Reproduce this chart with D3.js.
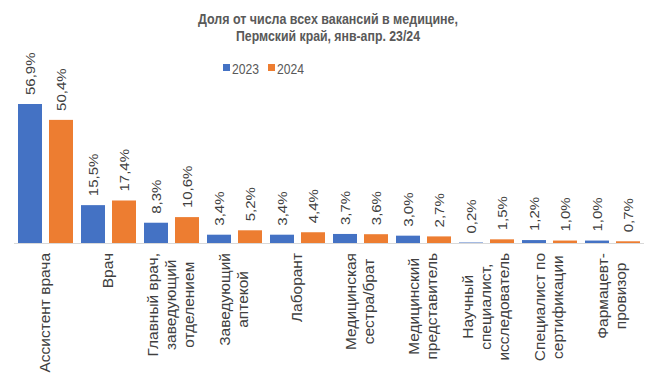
<!DOCTYPE html>
<html><head><meta charset="utf-8">
<script src="https://cdn.jsdelivr.net/npm/d3@7"></script>
<style>body{margin:0;background:#fff}svg{display:block}text{font-family:"Liberation Sans",Arial,sans-serif}</style>
</head><body>
<svg id="c" width="656" height="382"></svg>
<script>
const categories = [
  ["Ассистент врача"],
  ["Врач"],
  ["Главный врач,", "заведующий", "отделением"],
  ["Заведующий", "аптекой"],
  ["Лаборант"],
  ["Медицинская", "сестра/брат"],
  ["Медицинский", "представитель"],
  ["Научный", "специалист,", "исследователь"],
  ["Специалист по", "сертификации"],
  ["Фармацевт-", "провизор"]
];
const seriesNames = ["2023", "2024"];
const values2023 = [56.9, 15.5, 8.3, 3.4, 3.4, 3.7, 3.0, 0.2, 1.2, 1.0];
const values2024 = [50.4, 17.4, 10.6, 5.2, 4.4, 3.6, 2.7, 1.5, 1.0, 0.7];
const colors = ["#4472C4", "#ED7D31"];
const titleLines = ["Доля от числа всех вакансий в медицине,", "Пермский край, янв-апр. 23/24"];

const svg = d3.select("#c");
const series = [values2023, values2024];
const idx = d3.range(categories.length);

const x0 = d3.scaleBand().domain(idx).range([14, 644]).paddingInner(0).paddingOuter(0);
const x1 = d3.scaleBand().domain(seriesNames).range([0, x0.bandwidth()]).paddingInner(0.226).paddingOuter(0.129);
const y = d3.scaleLinear().domain([0, 56.9]).range([243, 104]);

// title
svg.append("g").selectAll("text").data(titleLines).join("text")
  .attr("x", 328).attr("y", (d, i) => 24 + i * 17)
  .attr("text-anchor", "middle").attr("font-size", 15).attr("font-weight", "bold")
  .attr("fill", "#595959")
  .attr("textLength", (d, i) => i === 0 ? 260 : 184).attr("lengthAdjust", "spacingAndGlyphs")
  .text(d => d);

// legend
const lg = svg.append("g");
const legX = [223, 268];
seriesNames.forEach((s, i) => {
  lg.append("rect").attr("x", legX[i]).attr("y", 64).attr("width", 7).attr("height", 7).attr("fill", colors[i]);
  lg.append("text").attr("x", legX[i] + 9).attr("y", 73.5).attr("font-size", 15.5).attr("fill", "#595959")
    .attr("textLength", 27).attr("lengthAdjust", "spacingAndGlyphs").text(s);
});

// bars
const groups = svg.append("g").selectAll("g").data(idx).join("g")
  .attr("transform", d => `translate(${x0(d)},0)`);
groups.selectAll("rect").data(d => seriesNames.map((s, j) => ({s, j, v: series[j][d]}))).join("rect")
  .attr("x", d => x1(d.s)).attr("width", x1.bandwidth())
  .attr("y", d => y(d.v)).attr("height", d => y(0) - y(d.v))
  .attr("fill", d => colors[d.j]);

// value labels
groups.selectAll("text").data(d => seriesNames.map((s, j) => ({s, j, v: series[j][d]}))).join("text")
  .attr("transform", d => `translate(${x1(d.s) + x1.bandwidth() / 2 + 0.5},${y(d.v) - 9}) rotate(-90) scale(1,0.9)`)
  .attr("dy", "0.35em").attr("font-size", 15).attr("fill", "#404040")
  .text(d => d.v.toFixed(1).replace(".", ",") + "%");

// axis line
svg.append("line").attr("x1", 14).attr("x2", 644).attr("y1", y(0) + 0.5).attr("y2", y(0) + 0.5)
  .attr("stroke", "#D9D9D9").attr("stroke-width", 1);

// category labels
const labelTop = 253;
const cg = svg.append("g");
idx.forEach(i => {
  const lines = categories[i];
  const cx = x0(i) + x0.bandwidth() / 2;
  const g = cg.append("g").attr("transform", `translate(${cx},0) rotate(-90) scale(1,0.9)`);
  const ts = lines.map((l, k) => g.append("text").attr("font-size", 15.5).attr("fill", "#404040")
    .attr("text-anchor", "middle").attr("dy", "0.35em")
    .attr("y", (k - (lines.length - 1) / 2) * 18 / 0.9).text(l));
  const maxW = d3.max(ts, t => t.node().getComputedTextLength());
  ts.forEach(t => t.attr("x", -(labelTop + maxW / 2)));
});
</script>
</body></html>
